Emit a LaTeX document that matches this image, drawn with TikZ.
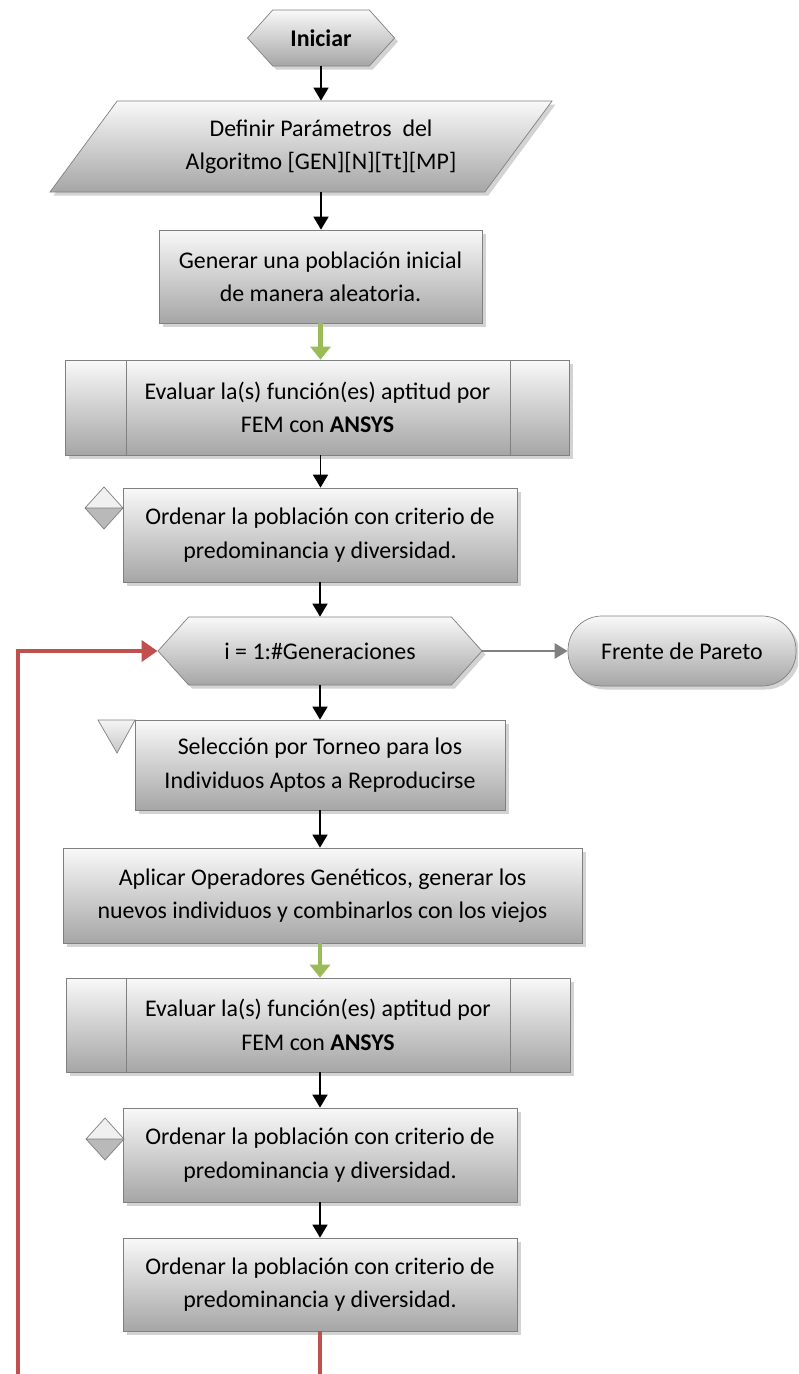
\documentclass[tikz,border=0pt]{standalone}
\usepackage{fontspec}
\setmainfont{Carlito}
\usetikzlibrary{shapes.geometric,shapes.symbols,arrows.meta,shadows,calc}
\definecolor{grisborde}{RGB}{128,128,128}
\definecolor{rojolazo}{RGB}{192,80,77}
\definecolor{verdeflecha}{RGB}{155,187,89}

\tikzset{
  sombreado/.style={draw=grisborde,top color=gray!5,bottom color=gray!70,
    drop shadow={opacity=0.35,shadow xshift=0.07cm,shadow yshift=-0.07cm}},
  caja/.style={sombreado,rectangle,align=center,font=\fontsize{13.6}{19}\selectfont,inner sep=2pt},
  hexa/.style={sombreado,signal,signal to=west and east,signal pointer angle=96,
    align=center,font=\fontsize{13.6}{19}\selectfont,inner sep=2pt},
  flecha/.style={-{Triangle[width=0.3cm,length=0.26cm]},line width=0.9pt,black},
  flechaverde/.style={-{Triangle[width=0.4cm,length=0.26cm]},line width=2.4pt,verdeflecha},
  flechagris/.style={-{Triangle[width=0.3cm,length=0.26cm]},line width=1.6pt,grisborde},
  lazo/.style={-{Triangle[width=0.42cm,length=0.32cm]},line width=2.8pt,rojolazo},
}

\begin{document}
\begin{tikzpicture}
\useasboundingbox (0,0) rectangle (15.96,-27.48);
\clip (0,0) rectangle (15.96,-27.48);

% inicio y parametros
\node[hexa,minimum width=2.94cm,minimum height=1.12cm] (inicio) at (6.42,-0.76) {\textbf{Iniciar}};
\node[caja,trapezium,trapezium left angle=42.3,trapezium right angle=137.7,trapezium stretches body,
  minimum width=10.04cm,minimum height=1.82cm] (param) at (6.02,-2.93)
  {\hspace*{0.8cm}Definir Parámetros\ \ del\\\hspace*{0.8cm}Algoritmo [GEN][N][Tt][MP]};

% poblacion inicial
\node[caja,minimum width=6.46cm,minimum height=1.86cm] (gen) at (6.41,-5.53)
  {Generar una población inicial\\de manera aleatoria.};
\node[caja,minimum width=10.08cm,minimum height=1.90cm] (eval1) at (6.35,-8.15)
  {Evaluar la(s) función(es) aptitud por\\FEM con \textbf{ANSYS}};
\node[caja,minimum width=7.88cm,minimum height=1.88cm] (ord1) at (6.40,-10.70)
  {Ordenar la población con criterio de\\predominancia y diversidad.};

% ciclo de generaciones
\node[hexa,minimum width=6.48cm,minimum height=1.36cm] (gens) at (6.40,-13.02) {i = 1:\#Generaciones};
\node[caja,rounded corners=0.68cm,minimum width=4.56cm,minimum height=1.40cm] (pareto) at (13.64,-13.02)
  {Frente de Pareto};
\node[caja,minimum width=7.40cm,minimum height=1.80cm] (sel) at (6.40,-15.30)
  {Selección por Torneo para los\\Individuos Aptos a Reproducirse};
\node[caja,minimum width=10.38cm,minimum height=1.90cm] (ops) at (6.45,-17.91)
  {Aplicar Operadores Genéticos, generar los\\nuevos individuos y combinarlos con los viejos};
\node[caja,minimum width=10.08cm,minimum height=1.88cm] (eval2) at (6.36,-20.50)
  {Evaluar la(s) función(es) aptitud por\\FEM con \textbf{ANSYS}};
\node[caja,minimum width=7.88cm,minimum height=1.88cm] (ord2) at (6.40,-23.10)
  {Ordenar la población con criterio de\\predominancia y diversidad.};
\node[caja,minimum width=7.88cm,minimum height=1.86cm] (ord3) at (6.40,-25.69)
  {Ordenar la población con criterio de\\predominancia y diversidad.};

% bordes internos de los procesos predefinidos
\foreach \p in {eval1,eval2}{
  \draw[grisborde] ($(\p.north west)+(1.22,0)$) -- ($(\p.south west)+(1.22,0)$);
  \draw[grisborde] ($(\p.north east)+(-1.20,0)$) -- ($(\p.south east)+(-1.20,0)$);
}

% marcas de ordenar y seleccionar
\foreach \cx/\cy in {2.08/-10.16,2.10/-22.78}{
  \begin{scope}[shift={(\cx,\cy)}]
    \fill[gray!12] (-0.38,0) -- (0,0.42) -- (0.38,0) -- cycle;
    \fill[gray!55] (-0.38,0) -- (0,-0.42) -- (0.38,0) -- cycle;
    \draw[grisborde] (-0.38,0) -- (0,0.42) -- (0.38,0) -- (0,-0.42) -- cycle (-0.38,0) -- (0.38,0);
  \end{scope}
}
\draw[grisborde,top color=gray!8,bottom color=gray!45] (1.96,-14.40) -- (2.70,-14.40) -- (2.34,-15.06) -- cycle;

% conectores
\draw[flecha] (inicio.south) -- (inicio.south |- param.north);
\draw[flecha] (inicio.south |- param.south) -- (inicio.south |- gen.north);
\draw[flechaverde] (gen.south) -- (gen.south |- eval1.north);
\draw[flecha] (gen.south |- eval1.south) -- (gen.south |- ord1.north);
\draw[flecha] (ord1.south) -- (gens.north);
\draw[flechagris] (gens.east) -- (pareto.west);
\draw[flecha] (gens.south) -- (sel.north);
\draw[flecha] (sel.south) -- (sel.south |- ops.north);
\draw[flechaverde] (sel.south |- ops.south) -- (sel.south |- eval2.north);
\draw[flecha] (sel.south |- eval2.south) -- (ord2.north);
\draw[flecha] (ord2.south) -- (ord3.north);

% regreso al ciclo
\coordinate (retorno) at (0.36,-28.2);
\draw[lazo] (ord3.south) |- (retorno) |- (gens.west);
\end{tikzpicture}
\end{document}
